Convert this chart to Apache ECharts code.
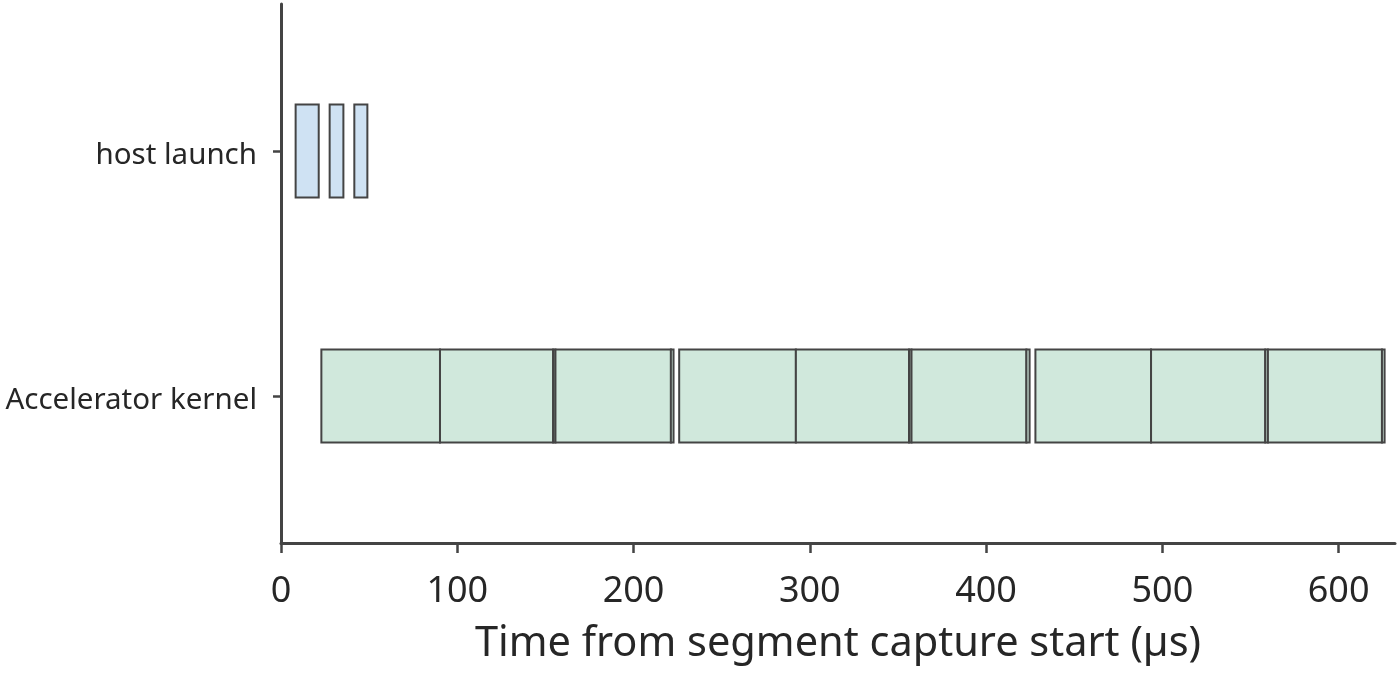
<!DOCTYPE html>
<html>
<head>
<meta charset="utf-8">
<script src="https://cdn.jsdelivr.net/npm/echarts@6/dist/echarts.min.js"></script>
<style>
  html, body { margin: 0; padding: 0; background: #fff; }
  #chart1 { width: 1400px; height: 675px; }
</style>
</head>
<body>
<div id="chart1"></div>
<script>
// lanes, bottom to top
var lanes = ['Accelerator kernel', 'host launch'];
var xTicks = [0, 100, 200, 300, 400, 500, 600];

// host launch spans (µs)
var hostStart = [8.3, 27.6, 41.6];
var hostEnd = [21.4, 35.4, 49.0];

// accelerator kernel spans (µs)
var kernelStart = [22.9, 90.2, 154.4, 155.7, 221.2, 225.9, 292.1, 356.3, 357.7, 422.9, 428.0, 493.6, 558.4, 559.9, 624.6];
var kernelEnd = [90.2, 154.4, 155.7, 221.2, 222.7, 292.1, 356.3, 357.7, 422.9, 424.7, 493.6, 558.4, 559.9, 624.6, 626.1];

var laneColor = ['#d0e8dc', '#cfe2f3'];

function buildData(starts, ends, lane) {
	var out = [];
	for (var i = 0; i < starts.length; i++) {
		out.push([starts[i], ends[i], lane]);
	}
	return out;
}

function spanItem(params, api) {
	var lane = api.value(2);
	var p1 = api.coord([api.value(0), lane + 0.19]);
	var p2 = api.coord([api.value(1), lane - 0.19]);
	return {
		type: 'rect',
		shape: { x: p1[0], y: p1[1], width: p2[0] - p1[0], height: p2[1] - p1[1] },
		style: { fill: laneColor[lane], stroke: '#444444', lineWidth: 2 }
	};
}

function chart1() {
	var myChart = echarts.init(document.getElementById('chart1'));
	var option = {
		animation: false,
		grid: { left: 281, right: 5, top: 4, bottom: 132 },
		xAxis: {
			type: 'value',
			min: 0,
			max: 632,
			name: 'Time from segment capture start (µs)',
			nameLocation: 'middle',
			nameGap: 80,
			nameTextStyle: { fontFamily: 'Noto Sans', fontSize: 41.5, color: '#262626' },
			axisLine: { show: true, onZero: false, lineStyle: { color: '#444444', width: 3 } },
			axisTick: { show: true, length: 10, customValues: xTicks, lineStyle: { color: '#444444', width: 2.5 } },
			axisLabel: { customValues: xTicks, margin: 31, fontFamily: 'Noto Sans', fontSize: 36, color: '#262626' },
			splitLine: { show: false }
		},
		yAxis: {
			type: 'value',
			min: -0.6,
			max: 1.6,
			axisLine: { show: true, onZero: false, lineStyle: { color: '#444444', width: 3 } },
			axisTick: { show: true, length: 8, customValues: [0, 1], lineStyle: { color: '#444444', width: 2.5 } },
			axisLabel: {
				customValues: [0, 1],
				margin: 24,
				fontFamily: 'Noto Sans',
				fontSize: 29.5,
				color: '#262626',
				verticalAlign: 'top',
				lineHeight: 10,
				formatter: function (v) { return lanes[Math.round(v)]; }
			},
			splitLine: { show: false }
		},
		series: [
			{
				name: 'host launch',
				type: 'custom',
				renderItem: spanItem,
				encode: { x: [0, 1], y: 2 },
				data: buildData(hostStart, hostEnd, 1)
			},
			{
				name: 'Accelerator kernel',
				type: 'custom',
				renderItem: spanItem,
				encode: { x: [0, 1], y: 2 },
				data: buildData(kernelStart, kernelEnd, 0)
			}
		]
	};
	myChart.setOption(option);
	window.addEventListener("resize", function () {
		myChart.resize();
	});
}

chart1();
</script>
</body>
</html>
